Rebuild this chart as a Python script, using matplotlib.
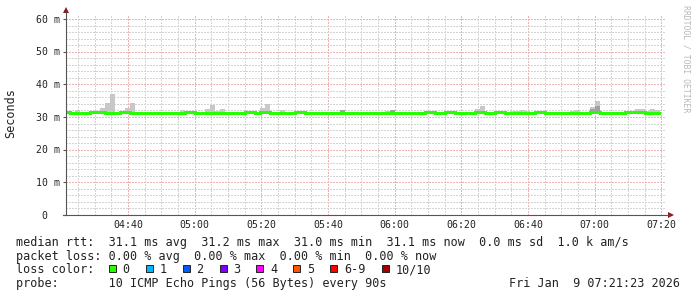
import matplotlib
matplotlib.use('Agg')
import matplotlib.pyplot as plt
from matplotlib.patches import Polygon, Rectangle
from matplotlib.transforms import blended_transform_factory, offset_copy

W, H = 697, 297
MONO = 'DejaVu Sans Mono'

# times are minutes after 04:00
first_step = 21 + 5 / 60      # 04:21:05, start of the first 90 s step
step_min = 1.5
view_start = 21 + 23 / 60     # 04:21:23
view_end = 201 + 23 / 60      # 07:21:23

# median rtt per step (ms)
median_rtt = [
    31.4, 31.1, 31.1, 31.1, 31.1, 31.4, 31.4, 31.4, 31.1, 31.1,
    31.1, 31.4, 31.4, 31.1, 31.1, 31.1, 31.1, 31.1, 31.1, 31.1,
    31.1, 31.1, 31.1, 31.1, 31.4, 31.4, 31.1, 31.1, 31.1, 31.1,
    31.1, 31.1, 31.1, 31.1, 31.1, 31.1, 31.4, 31.4, 31.1, 31.4,
    31.4, 31.1, 31.1, 31.1, 31.1, 31.1, 31.4, 31.4, 31.1, 31.1,
    31.1, 31.1, 31.1, 31.1, 31.1, 31.1, 31.1, 31.1, 31.1, 31.1,
    31.1, 31.1, 31.1, 31.1, 31.1, 31.1, 31.1, 31.1, 31.1, 31.1,
    31.1, 31.1, 31.4, 31.4, 31.1, 31.1, 31.4, 31.4, 31.1, 31.1,
    31.1, 31.1, 31.4, 31.4, 31.1, 31.1, 31.4, 31.4, 31.1, 31.1,
    31.1, 31.1, 31.1, 31.1, 31.4, 31.4, 31.1, 31.1, 31.1, 31.1,
    31.1, 31.1, 31.1, 31.1, 31.1, 31.4, 31.4, 31.1, 31.1, 31.1,
    31.1, 31.1, 31.4, 31.4, 31.4, 31.4, 31.1, 31.1, 31.1,
]

# slowest ping per step (outer smoke)
ping_max = [
    31.4, 31.6, 32.1, 31.6, 31.6, 31.4, 31.4, 32.8, 34.3, 37.0,
    31.1, 31.4, 32.8, 34.3, 31.1, 31.1, 31.1, 31.1, 31.1, 31.1,
    31.1, 31.1, 31.6, 32.0, 31.4, 31.4, 31.1, 31.1, 32.4, 33.8,
    31.9, 32.4, 31.1, 31.1, 31.1, 31.1, 31.4, 31.4, 31.1, 32.8,
    34.0, 31.1, 31.6, 32.0, 31.1, 31.1, 31.6, 31.6, 31.1, 31.1,
    31.1, 31.1, 31.1, 31.1, 31.6, 32.1, 31.1, 31.1, 31.1, 31.1,
    31.1, 31.1, 31.1, 31.1, 31.8, 32.1, 31.1, 31.1, 31.1, 31.1,
    31.1, 31.1, 31.4, 31.4, 31.1, 31.1, 31.4, 31.4, 31.1, 31.1,
    31.1, 31.1, 32.4, 33.4, 31.1, 31.6, 31.4, 31.4, 31.6, 31.8,
    31.8, 32.1, 31.8, 31.1, 31.4, 31.4, 31.1, 31.1, 31.1, 31.1,
    31.1, 31.8, 32.1, 31.1, 31.1, 33.0, 34.9, 31.1, 31.1, 31.1,
    31.1, 31.1, 31.4, 31.4, 32.4, 32.4, 31.7, 32.4, 32.1,
]

# inner (denser) smoke
ping_mid = list(median_rtt)
ping_mid[7] = 31.7
ping_mid[55] = 32.1
ping_mid[65] = 32.1
ping_mid[105] = 32.4
ping_mid[106] = 33.5

x_ticks = [40, 60, 80, 100, 120, 140, 160, 180, 200]
x_labels = ['04:40', '05:00', '05:20', '05:40', '06:00', '06:20', '06:40', '07:00', '07:20']
y_ticks = [0, 10, 20, 30, 40, 50, 60]
y_labels = [' 0', '10 m', '20 m', '30 m', '40 m', '50 m', '60 m']

loss_names = ['0', '1', '2', '3', '4', '5', '6-9', '10/10']
loss_colors = ['#26ff00', '#00b8ff', '#0059ff', '#7e00ff', '#ff00ff', '#ff5500', '#ff0000', '#a10000']

fig = plt.figure(figsize=(W / 100, H / 100), dpi=100, facecolor='white')
ax = fig.add_axes([66 / W, (H - 215) / H, 600 / W, 201 / H])
ax.set_xlim(view_start, view_end)
ax.set_ylim(0, 201 / 3.2667)
for s in ax.spines.values():
    s.set_visible(False)

ax.set_xticks(x_ticks)
ax.set_xticks([t for t in range(25, 205, 5)], minor=True)
ax.set_yticks(y_ticks)
ax.set_yticks(list(range(2, 62, 2)), minor=True)
ax.tick_params(which='both', labelbottom=False, labelleft=False, length=0)
ax.tick_params(axis='y', which='major', length=2.5, width=0.8, color='#555555')
ax.set_axisbelow(True)
ax.grid(which='minor', color='#d4d4d4', linestyle=(0, (1, 1)), linewidth=0.75, antialiased=False)
ax.grid(which='major', color='#eeb4b4', linestyle=(0, (1, 1)), linewidth=0.75, antialiased=False)

n = len(median_rtt)
edges = [first_step + step_min * k for k in range(n + 1)]
med = median_rtt + [median_rtt[-1]]
hi = ping_max + [ping_max[-1]]
mid = ping_mid + [ping_mid[-1]]

ax.fill_between(edges, med, hi, step='post', color='#c8c8c8', linewidth=0, zorder=2, antialiased=False)
ax.fill_between(edges, med, mid, step='post', color='#a0a0a0', linewidth=0, zorder=2, antialiased=False)
ax.plot(edges, med, drawstyle='steps-post', color=loss_colors[0], linewidth=2.16,
        solid_capstyle='butt', antialiased=False, zorder=3)

# overlay in pixel units for the frame and the text block
fx = fig.add_axes([0, 0, 1, 1])
fx.set_xlim(0, W)
fx.set_ylim(H, 0)
fx.axis('off')
fx.patch.set_visible(False)

fx.plot([66, 66], [215, 12], color='#555555', linewidth=0.8)
fx.plot([63, 669], [215, 215], color='#555555', linewidth=0.8)
fx.add_patch(Polygon([(63, 13), (69, 13), (66, 7)], closed=True, color='#8b1a1a', linewidth=0))
fx.add_patch(Polygon([(668, 212), (668, 218), (674, 215)], closed=True, color='#8b1a1a', linewidth=0))

tx = offset_copy(blended_transform_factory(fx.transData, ax.transData), fig=fig, y=-3.6, units='dots')
for v, lab in zip(y_ticks, y_labels):
    fx.text(35.5, v, lab, transform=tx, family=MONO, fontsize=7.1, color='#222222',
            ha='left', va='baseline')

bx = blended_transform_factory(ax.transData, fx.transData)
for t, lab in zip(x_ticks, x_labels):
    fx.text(t, 227.9, lab, transform=bx, family=MONO, fontsize=7.1, color='#222222',
            ha='center', va='baseline')

fx.text(11, 113, 'Seconds', family=MONO, fontsize=8.5, color='#222222', rotation=90,
        ha='center', va='center')
fx.text(686, 5, 'RRDTOOL / TOBI OETIKER', family=MONO, fontsize=5.9, color='#b8b8b8',
        rotation=270, ha='center', va='top')

rows = [
    'median rtt:  31.1 ms avg  31.2 ms max  31.0 ms min  31.1 ms now  0.0 ms sd  1.0 k am/s',
    'packet loss: 0.00 % avg  0.00 % max  0.00 % min  0.00 % now',
    'loss color:',
    'probe:       10 ICMP Echo Pings (56 Bytes) every 90s',
]
for i, line in enumerate(rows):
    fx.text(16, 245.8 + 13.75 * i, line, family=MONO, fontsize=8.5, color='#222222',
            ha='left', va='baseline')

box_x = [108.7, 145.7, 182.7, 219.7, 256.3, 293.3, 330.3, 381.7]
for x0, name, c in zip(box_x, loss_names, loss_colors):
    fx.add_patch(Rectangle((x0, 265.2), 7, 7, facecolor=c, edgecolor='#222222', linewidth=0.7))
    fx.text(x0 + 13.8, 273.3, name, family=MONO, fontsize=8.5, color='#222222',
            ha='left', va='baseline')

fx.text(680, 287, 'Fri Jan  9 07:21:23 2026', family=MONO, fontsize=8.5, color='#222222',
        ha='right', va='baseline')

fig.savefig('out.png', dpi=100, facecolor='white')
